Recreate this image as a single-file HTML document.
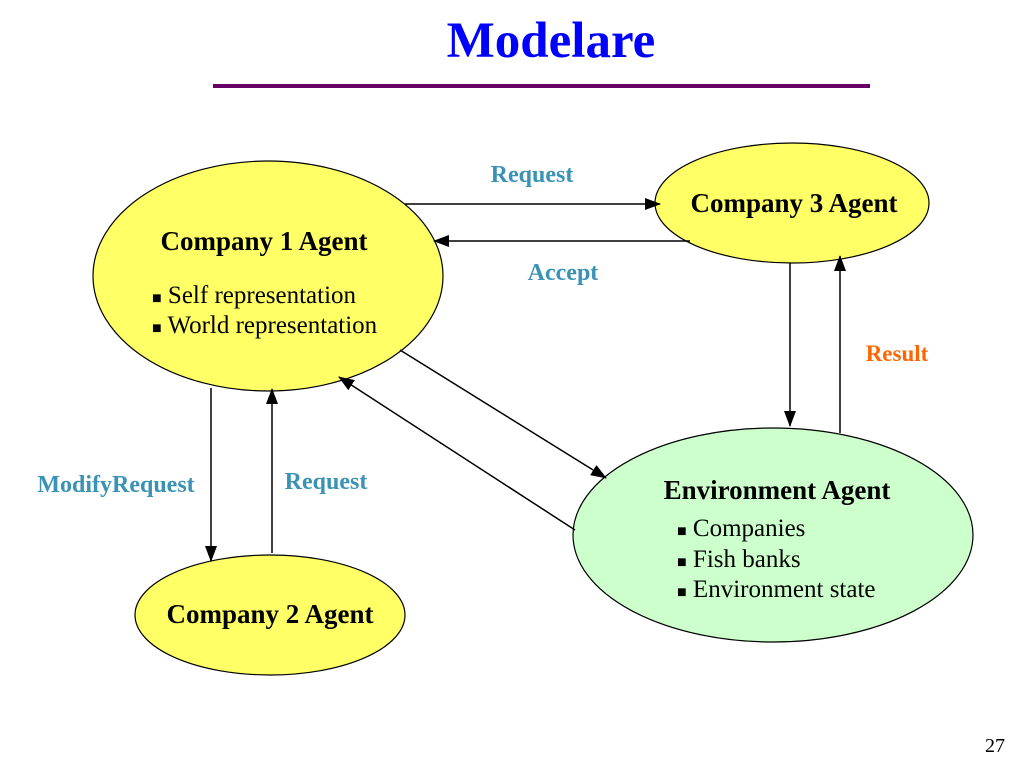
<!DOCTYPE html>
<html><head><meta charset="utf-8"><style>
html,body{margin:0;padding:0;background:#fff;}
svg{display:block;}
text{font-family:"Liberation Serif","Times New Roman",serif;}
.b{font-weight:bold;font-size:27px;fill:#000;}
.t{font-size:25px;fill:#000;}
.l{font-weight:bold;font-size:24px;fill:#3a92b4;}
</style></head><body>
<svg width="1024" height="768" viewBox="0 0 1024 768" xmlns="http://www.w3.org/2000/svg">
<defs><marker id="a" markerWidth="16" markerHeight="12" refX="15" refY="6" orient="auto" markerUnits="userSpaceOnUse"><path d="M0,0 L16,6 L0,12 z" fill="#000"/></marker></defs>
<text x="551" y="57" text-anchor="middle" style="font-weight:bold;font-size:51px;fill:#0000ff">Modelare</text>
<rect x="213" y="84" width="657" height="4" fill="#660066"/>
<ellipse cx="268" cy="276" rx="175" ry="115" fill="#ffff66" stroke="#000" stroke-width="1.2"/>
<ellipse cx="792" cy="203" rx="137" ry="60" fill="#ffff66" stroke="#000" stroke-width="1.2"/>
<ellipse cx="270" cy="615" rx="135" ry="60" fill="#ffff66" stroke="#000" stroke-width="1.2"/>
<ellipse cx="773" cy="535" rx="200" ry="107" fill="#ccffcc" stroke="#000" stroke-width="1.2"/>
<g stroke="#000" stroke-width="1.5" fill="none" marker-end="url(#a)">
<line x1="405" y1="204" x2="660" y2="204"/>
<line x1="690" y1="241" x2="434" y2="241"/>
<line x1="790" y1="263" x2="790" y2="426"/>
<line x1="840" y1="433" x2="840" y2="256"/>
<line x1="400" y1="350" x2="606" y2="478"/>
<line x1="575" y1="530" x2="339" y2="377"/>
<line x1="211" y1="388" x2="211" y2="561"/>
<line x1="272" y1="553" x2="272" y2="389"/>
</g>
<text x="532" y="182" text-anchor="middle" class="l">Request</text>
<text x="563" y="280" text-anchor="middle" class="l">Accept</text>
<text x="897" y="361" text-anchor="middle" style="font-weight:bold;font-size:23px;fill:#ff6600">Result</text>
<text x="116" y="492" text-anchor="middle" class="l">ModifyRequest</text>
<text x="326" y="489" text-anchor="middle" class="l">Request</text>
<text x="264" y="250" text-anchor="middle" class="b">Company 1 Agent</text>
<text x="152" y="303" class="t"><tspan font-size="16">■</tspan> Self representation</text>
<text x="152" y="333" class="t"><tspan font-size="16">■</tspan> World representation</text>
<text x="794" y="212" text-anchor="middle" class="b">Company 3 Agent</text>
<text x="270" y="623" text-anchor="middle" class="b">Company 2 Agent</text>
<text x="777" y="499" text-anchor="middle" class="b">Environment Agent</text>
<text x="677" y="536" class="t"><tspan font-size="16">■</tspan> Companies</text>
<text x="677" y="567" class="t"><tspan font-size="16">■</tspan> Fish banks</text>
<text x="677" y="597" class="t"><tspan font-size="16">■</tspan> Environment state</text>
<text x="1005" y="752" text-anchor="end" style="font-size:20px;fill:#000">27</text>
</svg>
</body></html>
